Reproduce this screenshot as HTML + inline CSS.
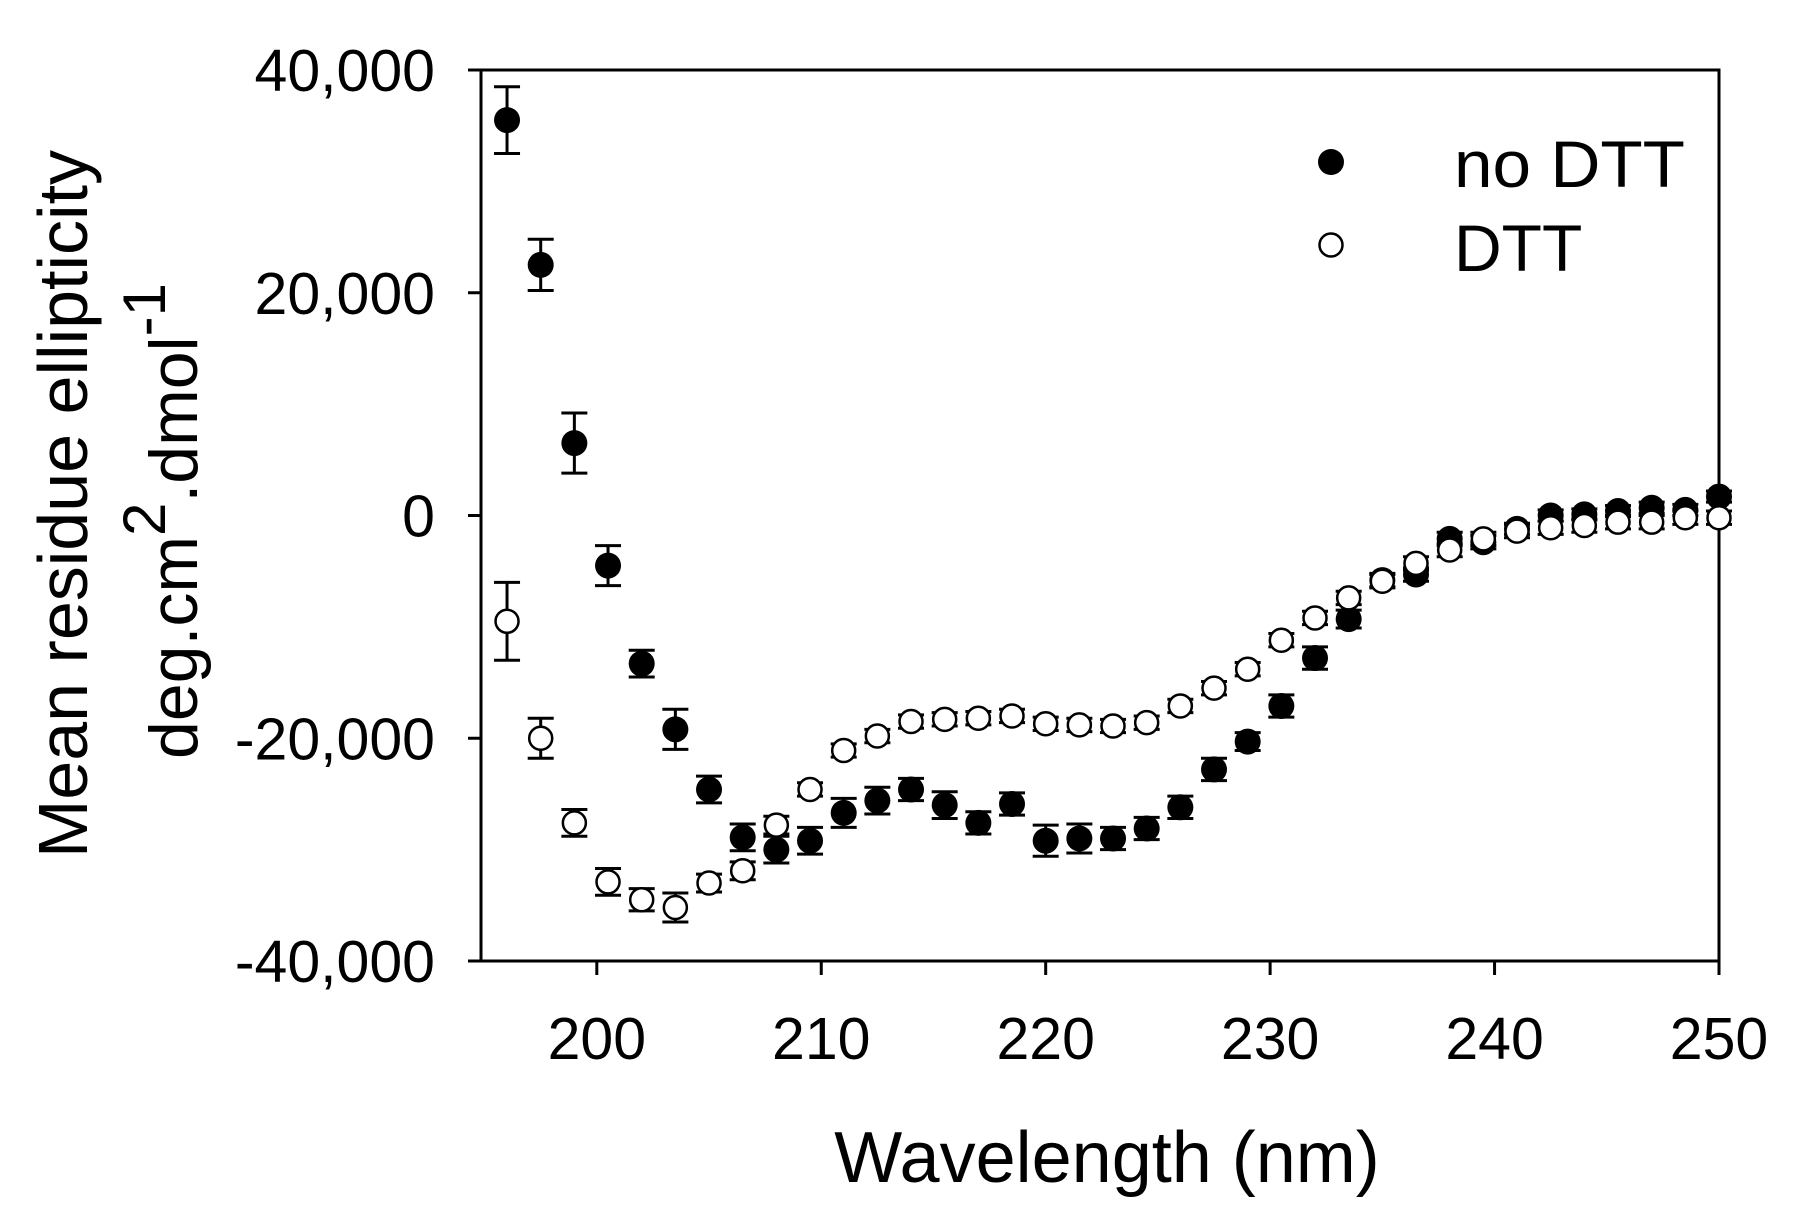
<!DOCTYPE html>
<html><head><meta charset="utf-8"><style>
html,body{margin:0;padding:0;background:#fff}
svg{display:block;font-family:"Liberation Sans",sans-serif}
</style></head><body>
<svg id="chart" width="1802" height="1214" viewBox="0 0 1802 1214">
<g id="axes"></g>
<g id="marks"></g>
<text x="1107" y="1182" font-size="72" text-anchor="middle">Wavelength (nm)</text>
<text transform="translate(87,504) rotate(-90)" font-size="70" text-anchor="middle">Mean residue ellipticity</text>
<text transform="translate(197,521) rotate(-90)" font-size="68" text-anchor="middle">deg.cm<tspan dy="-32" font-size="60">2</tspan><tspan dy="32">.dmol</tspan><tspan dy="-32" font-size="60">-1</tspan></text>
<g>
<circle cx="1331" cy="162" r="13" fill="#000"/>
<text x="1454" y="187" font-size="66" textLength="231" lengthAdjust="spacingAndGlyphs">no DTT</text>
<circle cx="1331" cy="245" r="11.5" fill="#fff" stroke="#000" stroke-width="2.5"/>
<text x="1454" y="271" font-size="66">DTT</text>
</g>
</svg>
<script>
const wavelengths=[196,197.5,199,200.5,202,203.5,205,206.5,208,209.5,211,212.5,214,215.5,217,218.5,220,221.5,223,224.5,226,227.5,229,230.5,232,233.5,235,236.5,238,239.5,241,242.5,244,245.5,247,248.5,250];
const noDTT=[35500,22500,6500,-4500,-13300,-19200,-24600,-28900,-30000,-29200,-26700,-25600,-24600,-26000,-27600,-25900,-29200,-29000,-29000,-28100,-26200,-22800,-20300,-17100,-12800,-9300,-5800,-5300,-2100,-2400,-1200,0,100,400,700,500,1700];
const noDTTerr=[3000,2300,2700,1800,1200,1800,1200,1200,1200,1200,1300,1200,1000,1200,1000,1000,1400,1300,1000,1000,1000,1000,800,1000,1000,800,600,600,600,600,500,500,500,500,500,500,500];
const dtt=[-9500,-20000,-27600,-32900,-34500,-35200,-33000,-31900,-27800,-24600,-21100,-19800,-18500,-18300,-18200,-18000,-18700,-18800,-18900,-18600,-17100,-15500,-13800,-11200,-9200,-7400,-5900,-4300,-3100,-2100,-1400,-1100,-900,-600,-600,-200,-200];
const dttErr=[3500,1800,1200,1200,1000,1300,800,800,800,600,600,600,600,600,600,600,600,600,600,600,600,600,600,600,600,600,600,600,600,600,600,600,600,600,600,600,600];
const xTicks=[200,210,220,230,240,250];
const yTicks=[40000,20000,0,-20000,-40000];
const yTickLabels=["40,000","20,000","0","-20,000","-40,000"];

const L=481,R=1719,T=70,B=961,X0=194.84,X1=250,Y0=-40000,Y1=40000;
const xs=v=>L+(v-X0)/(X1-X0)*(R-L);
const ys=v=>B-(v-Y0)/(Y1-Y0)*(B-T);
const NS="http://www.w3.org/2000/svg";
function mk(tag,attrs,parent){const e=document.createElementNS(NS,tag);for(const k in attrs)e.setAttribute(k,attrs[k]);parent.appendChild(e);return e;}
const axes=document.getElementById('axes'),marks=document.getElementById('marks');
let e=mk('rect',{x:L,y:T,width:R-L,height:B-T,fill:'none',stroke:'#000','stroke-width':3},axes);


yTicks.forEach((v,i)=>{
  let t=mk('line',{x1:L-13,x2:L,y1:ys(v),y2:ys(v),stroke:'#000','stroke-width':3},axes);
  
  
  let l=mk('text',{x:435,y:ys(v)+21,'font-size':59,'text-anchor':'end'},axes);
  l.textContent=yTickLabels[i];
  
  
});
xTicks.forEach(v=>{
  let t=mk('line',{x1:xs(v),x2:xs(v),y1:B,y2:B+14,stroke:'#000','stroke-width':3},axes);
  
  
  let l=mk('text',{x:xs(v),y:1059,'font-size':59,'text-anchor':'middle'},axes);
  l.textContent=String(v);
  
  
});
function series(vals,errs,filled,name){
  const g=mk('g',{},marks);
  
  
  vals.forEach((v,i)=>{
    const x=xs(wavelengths[i]),y=ys(v),e1=ys(v+errs[i]),e2=ys(v-errs[i]);
    let eb=mk('path',{d:`M${x},${e1}V${e2}M${x-13},${e1}H${x+13}M${x-13},${e2}H${x+13}`,stroke:'#000','stroke-width':3,fill:'none'},g);
    
    
    let c=mk('circle',filled?{cx:x,cy:y,r:13,fill:'#000'}:{cx:x,cy:y,r:11.5,fill:'#fff',stroke:'#000','stroke-width':2.5},g);
    
    
  });
}
series(noDTT,noDTTerr,true,'no-dtt');
series(dtt,dttErr,false,'dtt');
</script>
</body></html>
